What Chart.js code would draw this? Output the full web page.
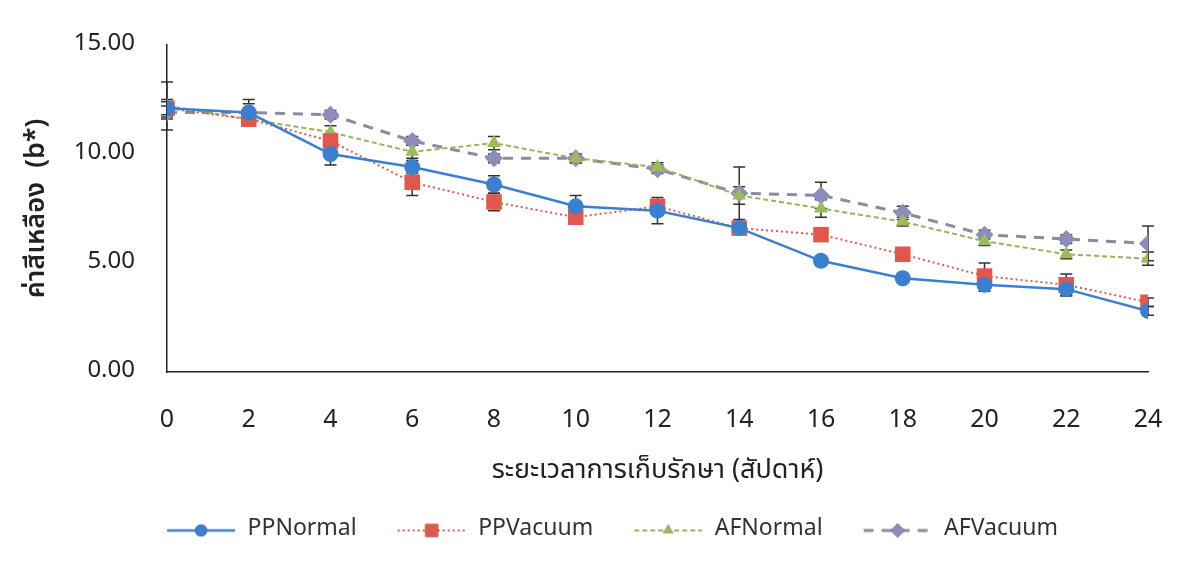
<!DOCTYPE html>
<html>
<head>
<meta charset="utf-8">
<script src="https://cdn.jsdelivr.net/npm/chart.js@4"></script>
<style>
  html, body { margin: 0; padding: 0; background: #fff; }
  #wrap { width: 1200px; height: 575px; }
</style>
</head>
<body>
<div id="wrap"><canvas id="chart" width="1200" height="575"></canvas></div>
<script>
var weeks = [0, 2, 4, 6, 8, 10, 12, 14, 16, 18, 20, 22, 24];
var ppNormal    = [12.1, 11.9, 10.0, 9.4, 8.6, 7.6, 7.4, 6.6, 5.1, 4.3, 4.0, 3.8, 2.8];
var ppNormalErr = [0.3, 0.6, 0.5, 0.3, 0.4, 0.5, 0.6, 0.2, 0.2, 0.2, 0.3, 0.3, 0.2];
var ppVacuum    = [12.1, 11.6, 10.6, 8.7, 7.8, 7.1, 7.6, 6.6, 6.3, 5.4, 4.4, 4.0, 3.2];
var ppVacuumErr = [0.4, 0.2, 0.3, 0.6, 0.4, 0.2, 0.3, 0.2, 0.2, 0.2, 0.6, 0.5, 0.2];
var afNormal    = [12.2, 11.6, 11.0, 10.1, 10.5, 9.8, 9.4, 8.1, 7.5, 6.9, 6.0, 5.4, 5.2];
var afNormalErr = [1.1, 0.2, 0.3, 0.3, 0.3, 0.2, 0.2, 0.4, 0.4, 0.2, 0.2, 0.2, 0.3];
var afVacuum    = [11.9, 11.9, 11.8, 10.6, 9.8, 9.8, 9.3, 8.2, 8.1, 7.3, 6.3, 6.1, 5.9];
var afVacuumErr = [0.3, 0.4, 0.2, 0.2, 0.2, 0.2, 0.2, 1.2, 0.6, 0.3, 0.2, 0.2, 0.8];
var yTicks = [0, 5, 10, 15];

var font = "Tahoma, 'Noto Sans Thai', 'Noto Sans', 'DejaVu Sans', sans-serif";

function toPoints(values) {
  return values.map(function(v, i) { return {x: weeks[i], y: v}; });
}

// legend symbol: short line with marker in the middle
function legendIcon(color, lineColor, dash, width, style, radius) {
  var c = document.createElement('canvas');
  c.width = 70; c.height = 22;
  var ctx = c.getContext('2d');
  ctx.strokeStyle = lineColor;
  ctx.lineWidth = width;
  ctx.setLineDash(dash);
  ctx.beginPath();
  ctx.moveTo(1, 11); ctx.lineTo(69, 11);
  ctx.stroke();
  ctx.setLineDash([]);
  Chart.helpers.drawPoint(ctx, {pointStyle: style, radius: radius, borderWidth: 0}, 35, 11);
  ctx.fillStyle = color;
  ctx.fill();
  return c;
}

var series = [
  {label: 'PPNormal', data: ppNormal, err: ppNormalErr, color: '#3b7fcf', line: '#3b7fcf', dash: [], width: 2.5, style: 'circle', r: 8},
  {label: 'PPVacuum', data: ppVacuum, err: ppVacuumErr, color: '#e2574c', line: '#e2574c', dash: [2, 3], width: 2, style: 'rect', r: 11},
  {label: 'AFNormal', data: afNormal, err: afNormalErr, color: '#9dbb5a', line: '#98b45a', dash: [5, 3], width: 2, style: 'triangle', r: 8},
  {label: 'AFVacuum', data: afVacuum, err: afVacuumErr, color: '#8e8cba', line: '#8a8aa0', dash: [10, 8], width: 3, style: 'rectRot', r: 9}
];

var datasets = series.map(function(s) {
  return {
    label: s.label,
    data: toPoints(s.data),
    err: s.err,
    borderColor: s.line,
    backgroundColor: s.color,
    borderDash: s.dash,
    borderWidth: s.width,
    pointStyle: s.style,
    pointRadius: s.r,
    pointBorderWidth: 0,
    pointBackgroundColor: s.color,
    legendIcon: legendIcon(s.color, s.line, s.dash, s.width, s.style, s.r - 2),
    fill: false,
    tension: 0
  };
});

var errorBars = {
  id: 'errorBars',
  beforeDatasetsDraw: function(chart) {
    var ctx = chart.ctx;
    var xs = chart.scales.x, ys = chart.scales.y;
    ctx.save();
    ctx.strokeStyle = '#333';
    ctx.lineWidth = 1.5;
    chart.data.datasets.forEach(function(ds) {
      ds.data.forEach(function(p, i) {
        var e = ds.err[i];
        var x = xs.getPixelForValue(p.x);
        var y1 = ys.getPixelForValue(p.y - e);
        var y2 = ys.getPixelForValue(p.y + e);
        ctx.beginPath();
        ctx.moveTo(x, y1); ctx.lineTo(x, y2);
        ctx.moveTo(x - 6, y1); ctx.lineTo(x + 6, y1);
        ctx.moveTo(x - 6, y2); ctx.lineTo(x + 6, y2);
        ctx.stroke();
      });
    });
    ctx.restore();
  }
};

// the legend sits a little right of centre in the original
var legendShift = {
  id: 'legendShift',
  afterLayout: function(chart) {
    chart.legend.left += 38;
    chart.legend.right += 38;
  }
};

new Chart(document.getElementById('chart'), {
  type: 'line',
  data: {datasets: datasets},
  plugins: [errorBars, legendShift],
  options: {
    responsive: false,
    animation: false,
    layout: {padding: {top: 45, right: 52, left: 0, bottom: 23}},
    plugins: {
      legend: {
        position: 'bottom',
        labels: {
          color: '#333',
          font: {family: font, size: 23},
          usePointStyle: true,
          pointStyleWidth: 70,
          boxHeight: 22,
          padding: 40,
          generateLabels: function(chart) {
            return chart.data.datasets.map(function(ds, i) {
              return {
                text: ds.label,
                pointStyle: ds.legendIcon,
                fillStyle: ds.backgroundColor,
                strokeStyle: ds.borderColor,
                fontColor: '#333',
                lineWidth: 0,
                hidden: false,
                datasetIndex: i
              };
            });
          }
        }
      },
      tooltip: {enabled: false}
    },
    scales: {
      x: {
        type: 'linear',
        min: 0,
        max: 24,
        afterFit: function(scale) { scale.height = 107; },
        border: {color: '#222', width: 1.5},
        grid: {display: false, drawOnChartArea: false, drawTicks: true, tickLength: 6, tickColor: '#222'},
        ticks: {stepSize: 2, color: '#222', padding: 29, font: {family: font, size: 25}},
        title: {
          display: true,
          text: 'ระยะเวลาการเก็บรักษา (สัปดาห์)',
          color: '#222',
          font: {family: font, size: 27, lineHeight: 1},
          padding: {top: 0, bottom: -7}
        }
      },
      y: {
        min: 0,
        max: 15,
        afterFit: function(scale) { scale.width = 167; },
        afterBuildTicks: function(scale) {
          scale.ticks = yTicks.map(function(v) { return {value: v}; });
        },
        border: {color: '#222', width: 1.5},
        grid: {display: false, drawOnChartArea: false, drawTicks: true, tickLength: 6, tickColor: '#222'},
        ticks: {
          color: '#222',
          padding: 26,
          font: {family: font, size: 24},
          callback: function(v) { return Number(v).toFixed(2); }
        },
        title: {
          display: true,
          text: 'ค่าสีเหลือง  (b*)',
          color: '#222',
          font: {family: font, size: 27, weight: '600'},
          padding: {top: 22, bottom: 0}
        }
      }
    }
  }
});
</script>
</body>
</html>
